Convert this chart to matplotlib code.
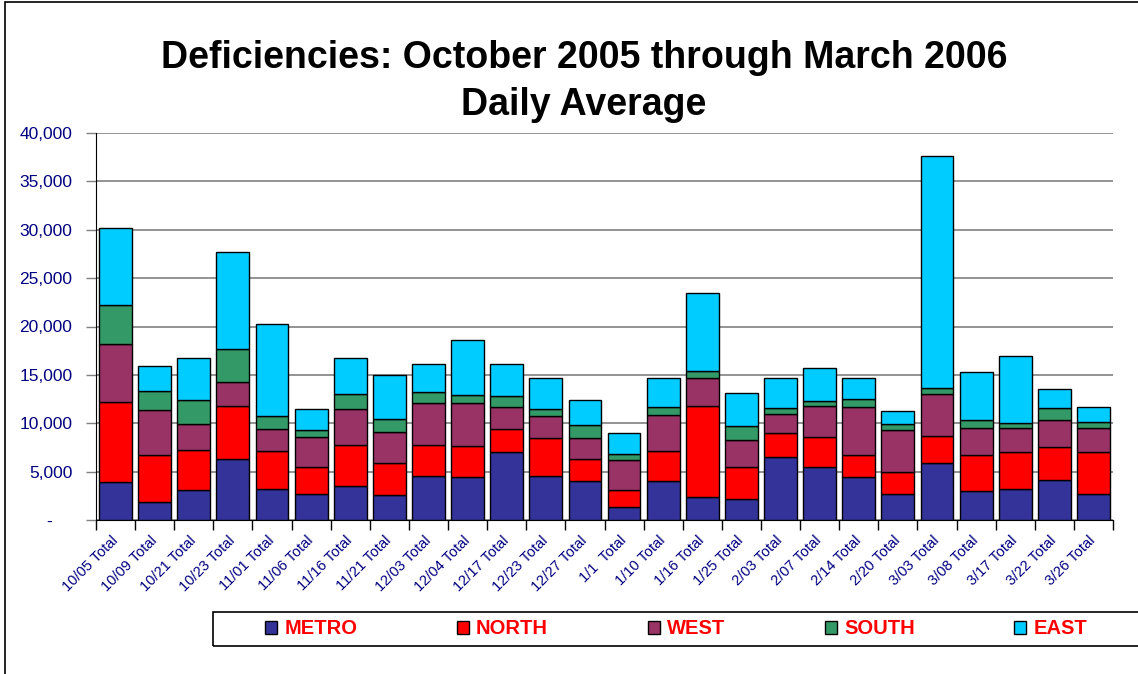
import matplotlib.pyplot as plt
from matplotlib.patches import Patch, Rectangle
import numpy as np

plt.rcParams['font.family'] = ['Liberation Sans', 'DejaVu Sans']

# Data (daily average deficiencies)
dates = ["10/05", "10/09", "10/21", "10/23", "11/01", "11/06", "11/16", "11/21",
         "12/03", "12/04", "12/17", "12/23", "12/27", "1/1 ", "1/10", "1/16",
         "1/25", "2/03", "2/07", "2/14", "2/20", "3/03", "3/08", "3/17",
         "3/22", "3/26"]
metro = [3900, 1890, 3100, 6340, 3235, 2720, 3510, 2580, 4580, 4440, 7000, 4580, 4030,
         1375, 4030, 2410, 2170, 6540, 5510, 4410, 2690, 5890, 3000, 3200, 4130, 2690]
north = [8300, 4830, 4170, 5480, 3900, 2790, 4240, 3340, 3170, 3200, 2410, 3900, 2300,
         1725, 3070, 9375, 3340, 2420, 3100, 2300, 2240, 2820, 3720, 3790, 3410, 4310]
west = [6030, 4680, 2660, 2420, 2270, 3100, 3750, 3170, 4310, 4410, 2240, 2240, 2110,
        3070, 3750, 2925, 2760, 2000, 3170, 4960, 4340, 4280, 2790, 2510, 2760, 2480]
south = [4000, 1900, 2450, 3440, 1340, 690, 1490, 1370, 1200, 830, 1200, 790, 1340,
         680, 800, 720, 1480, 590, 550, 800, 620, 680, 830, 520, 1240, 680]
east = [7990, 2650, 4370, 10060, 9480, 2200, 3720, 4550, 2830, 5720, 3240, 3200, 2650,
        2110, 3060, 8000, 3350, 3160, 3350, 2230, 1340, 23950, 4930, 6960, 2000, 1490]

regions = ["METRO", "NORTH", "WEST", "SOUTH", "EAST"]
colors = ["#333399", "#FF0000", "#993366", "#339966", "#00CCFF"]
series = [metro, north, west, south, east]
labels = [d + " Total" for d in dates]

fig = plt.figure(figsize=(11.38, 6.74), dpi=100)
ax = fig.add_axes([96 / 1138, 1 - 520 / 674, (1113 - 96) / 1138, (520 - 133) / 674])

x = np.arange(len(dates))
bottom = np.zeros(len(dates))
for vals, col in zip(series, colors):
    ax.bar(x, vals, width=0.84, bottom=bottom, color=col, edgecolor="black",
           linewidth=1.0, zorder=3)
    bottom += np.array(vals)

ax.set_xlim(-0.5, len(dates) - 0.5)
ax.set_ylim(0, 40000)
ax.set_yticks(np.arange(0, 40001, 5000))
ax.set_yticklabels(["-    "] + [f"{v:,}" for v in range(5000, 40001, 5000)])
ax.yaxis.grid(True, color="#808080", linewidth=1.2, zorder=0)
ax.set_axisbelow(True)
ax.tick_params(axis="y", length=7, width=1, color="#808080", labelsize=12.5,
               labelcolor="#000080", pad=10)

ax.set_xticks(x)
ax.set_xticklabels(labels, rotation=45, ha="right", va="center",
                   rotation_mode="anchor", fontsize=10.5, color="#000080")
ax.tick_params(axis="x", which="major", length=0, pad=13)
ax.set_xticks(np.arange(-0.5, len(dates)), minor=True)
ax.tick_params(axis="x", which="minor", length=7, width=1, color="black")

for s in ["top", "right"]:
    ax.spines[s].set_visible(False)
ax.spines["left"].set_color("black")
ax.spines["bottom"].set_color("black")

fig.text(0.513, 1 - 40 / 674,
         "Deficiencies: October 2005 through March 2006\nDaily Average",
         ha="center", va="top", fontsize=27, fontweight="bold", linespacing=1.38)

# legend frame (runs off the right edge as in the original)
fig.patches.append(Rectangle((213 / 1138, 1 - 646 / 674), 0.95, 34 / 674,
                             transform=fig.transFigure, fill=False,
                             edgecolor="black", linewidth=1.2))
handles = [Patch(facecolor=c, edgecolor="black", linewidth=1.0) for c in colors]
leg = fig.legend(handles, regions, ncol=5, frameon=False, loc="center left",
                 bbox_to_anchor=(255 / 1138, 1 - 629 / 674), borderpad=0,
                 handlelength=0.6, handleheight=0.6, handletextpad=0.35,
                 columnspacing=4.95, prop={"size": 14.5, "weight": "bold"})
for t in leg.get_texts():
    t.set_color("#FF0000")

# outer chart border (cut off at right and bottom)
fig.patches.append(Rectangle((5 / 1138, -0.1), 1.2, 1.1 - 2 / 674,
                             transform=fig.transFigure, fill=False,
                             edgecolor="black", linewidth=1.2))

fig.savefig("out.png", dpi=100)
